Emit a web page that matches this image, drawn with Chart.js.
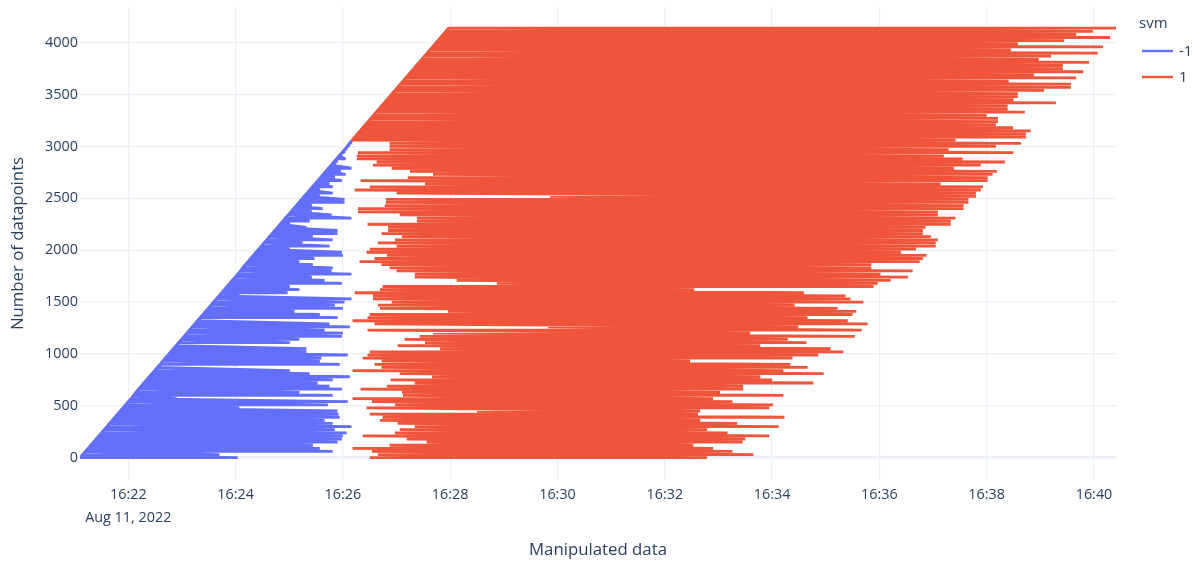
<!DOCTYPE html>
<html>
<head>
<meta charset="utf-8">
<title>Manipulated data</title>
<script src="https://cdn.jsdelivr.net/npm/chart.js@4.4.1/dist/chart.umd.min.js"></script>
<style>
  html, body { margin: 0; padding: 0; background: #ffffff; }
  #wrap { width: 1200px; height: 563px; }
</style>
</head>
<body>
<div id="wrap"><canvas id="chart" width="1200" height="563"></canvas></div>
<script>
// Datapoint number for each sampled row of the trace
const rowIndex = [
  0,30,60,90,120,150,180,210,240,270,
  300,330,360,390,420,450,480,510,540,570,
  600,630,660,690,720,750,780,810,840,870,
  900,930,960,990,1020,1050,1080,1110,1140,1170,
  1200,1230,1260,1290,1320,1350,1380,1410,1440,1470,
  1500,1530,1560,1590,1620,1650,1680,1710,1740,1770,
  1800,1830,1860,1890,1920,1950,1980,2010,2040,2070,
  2100,2130,2160,2190,2220,2250,2280,2310,2340,2370,
  2400,2430,2460,2490,2520,2550,2580,2610,2640,2670,
  2700,2730,2760,2790,2820,2850,2880,2910,2940,2970,
  3000,3030,3060,3090,3120,3150,3180,3210,3240,3270,
  3300,3330,3360,3390,3420,3450,3480,3510,3540,3570,
  3600,3630,3660,3690,3720,3750,3780,3810,3840,3870,
  3900,3930,3960,3990,4020,4050,4080,4110,4140
];

// Times are minutes after 16:00 (Aug 11, 2022)
// svm = -1 : where each row starts and ends
const blueStart = [
  21.10,21.15,21.20,21.25,21.30,21.35,21.40,21.45,21.50,21.55,
  21.60,21.65,21.70,21.75,21.80,21.85,21.90,21.95,22.00,22.05,
  22.10,22.14,22.19,22.24,22.29,22.34,22.39,22.44,22.49,22.54,
  22.59,22.64,22.69,22.74,22.79,22.84,22.89,22.94,22.99,23.04,
  23.09,23.14,23.19,23.24,23.29,23.34,23.39,23.44,23.49,23.54,
  23.59,23.64,23.69,23.74,23.79,23.84,23.89,23.94,23.99,24.04,
  24.09,24.13,24.18,24.23,24.28,24.33,24.38,24.43,24.48,24.53,
  24.58,24.63,24.68,24.73,24.78,24.83,24.88,24.93,24.98,25.03,
  25.08,25.13,25.18,25.23,25.28,25.33,25.38,25.43,25.48,25.53,
  25.58,25.63,25.68,25.73,25.78,25.83,25.88,25.93,25.98,26.03,
  26.08,26.12,26.17
];
const blueEnd = [
  24.04,23.70,25.81,25.57,25.44,25.90,25.98,26.00,26.07,25.85,
  26.16,25.81,25.66,25.94,25.92,25.90,24.07,25.72,26.09,22.90,
  25.81,25.19,25.98,25.75,25.53,25.81,26.13,25.38,25.01,22.58,
  25.94,25.57,25.60,26.09,25.32,25.32,22.90,25.01,25.19,25.98,
  26.00,25.66,26.13,25.75,23.33,25.90,25.57,25.10,26.00,25.85,
  26.03,26.16,24.07,24.97,25.19,25.01,25.98,25.66,25.42,26.16,
  25.79,25.81,25.44,25.19,25.47,26.00,25.98,25.01,25.75,25.25,
  25.81,25.44,25.90,25.90,25.32,25.01,25.38,26.16,25.79,25.42,
  25.62,25.42,26.03,26.03,25.57,25.81,25.57,25.81,25.75,25.98,
  25.85,26.05,25.96,26.16,25.85,25.88,26.05,25.96,26.02,26.05,
  26.10,26.14,26.17
];

// svm = 1 : where each row starts and ends
const redStart = [
  26.50,26.65,26.54,26.18,26.87,27.56,27.19,26.37,26.97,27.06,
  27.34,27.02,26.69,26.74,26.50,28.50,26.44,26.97,26.54,26.18,
  27.12,27.10,26.33,26.82,27.34,26.89,27.66,27.06,26.18,26.72,
  26.59,26.72,26.37,26.46,26.50,27.81,27.02,27.53,27.15,27.43,
  27.68,26.46,29.82,26.59,26.18,26.46,26.50,27.96,26.69,26.65,
  26.91,26.56,26.56,26.22,26.69,26.74,28.87,28.12,27.34,27.34,
  27.00,26.87,26.72,26.31,26.59,26.82,26.44,26.50,27.00,26.65,
  26.97,27.10,26.72,26.84,26.84,26.46,27.38,27.38,27.06,26.28,
  26.28,26.78,26.80,26.80,29.86,27.00,26.22,26.50,27.53,26.33,
  27.21,27.68,27.25,26.91,26.56,26.63,26.26,26.26,26.28,26.87,
  26.87,26.87,26.17,26.22,26.27,26.32,26.37,26.42,26.47,26.52,
  26.57,26.62,26.67,26.72,26.77,26.82,26.87,26.92,26.97,27.02,
  27.07,27.12,27.17,27.22,27.27,27.32,27.37,27.42,27.47,27.52,
  27.57,27.62,27.67,27.72,27.77,27.82,27.87,27.92,27.97
];
const redEnd = [
  32.79,33.65,33.26,32.90,32.53,33.45,33.50,33.95,33.17,32.79,
  34.12,33.35,32.66,34.23,32.62,32.66,33.95,34.02,33.26,32.90,
  34.21,33.03,33.46,33.46,34.77,34.00,33.78,34.96,34.21,34.66,
  34.34,32.47,34.38,34.86,35.33,35.09,33.78,34.64,34.29,35.54,
  33.59,35.67,34.49,35.78,35.41,34.66,35.50,35.57,35.22,34.42,
  35.70,35.46,35.37,34.59,32.55,35.89,35.97,36.21,36.53,36.02,
  36.62,35.85,35.85,36.75,36.81,36.88,36.40,36.68,37.05,37.05,
  37.09,36.96,36.81,36.81,36.86,37.33,37.33,37.42,37.09,37.09,
  37.57,37.57,37.66,37.66,37.80,37.80,37.89,37.93,37.14,38.02,
  38.02,38.11,38.19,37.39,37.89,38.34,37.55,37.20,38.50,37.29,
  38.17,38.64,37.42,38.73,38.73,38.82,38.49,38.17,38.21,38.21,
  38.00,38.71,38.39,38.39,39.29,38.50,38.58,38.58,39.07,39.57,
  39.57,38.41,39.67,38.88,39.80,39.42,39.42,39.91,38.97,39.20,
  40.07,38.45,40.17,38.58,39.44,40.30,39.67,39.98,40.41
];

// First datapoint of each series whose row starts at its arrival time
const blueArrivalFrom = 0;
const redArrivalFrom = 3060;

// Axis ticks
const timeTicks = [22, 24, 26, 28, 30, 32, 34, 36, 38, 40];
const timeLabels = ['16:22','16:24','16:26','16:28','16:30','16:32','16:34','16:36','16:38','16:40'];
const dateLabel = 'Aug 11, 2022';
const countTicks = [0, 500, 1000, 1500, 2000, 2500, 3000, 3500, 4000];

const seriesNames = ['-1', '1'];
const legendTitle = 'svm';

const FONT = "'Open Sans', verdana, arial, sans-serif";
const INK = '#2a3f5f';
const GRID = '#EBF0F8';

// Each row is traced from its start time to its end time, then on to the next row.
// The trace then runs back down along the arrival edge (row starts from `from` on).
function trace(rows, starts, ends, from) {
  const pts = [];
  for (let i = 0; i < starts.length; i++) {
    pts.push({ x: starts[i], y: rows[i] });
    pts.push({ x: ends[i], y: rows[i] });
  }
  for (let i = starts.length - 1; i >= 0 && rows[i] >= from; i--) {
    pts.push({ x: starts[i], y: rows[i] });
  }
  return pts;
}

const lineStyle = {
  borderWidth: 2.8,
  pointRadius: 0,
  pointHoverRadius: 0,
  tension: 0,
  fill: false,
  borderJoinStyle: 'bevel',
  borderCapStyle: 'butt'
};

const legendBox = {
  id: 'legendBox',
  afterDraw(chart) {
    const ctx = chart.ctx;
    ctx.save();
    ctx.font = '15px ' + FONT;
    ctx.fillStyle = INK;
    ctx.textBaseline = 'middle';
    ctx.textAlign = 'left';
    ctx.fillText(legendTitle, 1139, 24);
    chart.data.datasets.forEach((ds, i) => {
      const y = 51 + i * 26;
      ctx.strokeStyle = ds.borderColor;
      ctx.lineWidth = 2.4;
      ctx.beginPath();
      ctx.moveTo(1142, y);
      ctx.lineTo(1173, y);
      ctx.stroke();
      ctx.fillStyle = INK;
      ctx.fillText(ds.label, 1179, y + 1);
    });
    ctx.restore();
  }
};

new Chart(document.getElementById('chart'), {
  type: 'line',
  data: {
    datasets: [
      Object.assign({
        label: seriesNames[0],
        data: trace(rowIndex, blueStart, blueEnd, blueArrivalFrom),
        borderColor: '#636efa',
        backgroundColor: '#636efa',
        order: 2
      }, lineStyle),
      Object.assign({
        label: seriesNames[1],
        data: trace(rowIndex, redStart, redEnd, redArrivalFrom),
        borderColor: '#EF553B',
        backgroundColor: '#EF553B',
        order: 1
      }, lineStyle)
    ]
  },
  options: {
    responsive: false,
    animation: false,
    devicePixelRatio: 1,
    events: [],
    layout: { padding: { top: 7, right: 84, left: 0, bottom: 0 } },
    plugins: {
      legend: { display: false },
      tooltip: { enabled: false }
    },
    scales: {
      x: {
        type: 'linear',
        min: 21.10,
        max: 40.41,
        afterFit: (s) => { s.height = 83; s.paddingLeft = 0; s.paddingRight = 0; },
        afterBuildTicks: (s) => { s.ticks = timeTicks.map(v => ({ value: v })); },
        grid: { color: GRID, lineWidth: 1.2, drawTicks: false },
        border: { display: false },
        ticks: {
          autoSkip: false,
          maxRotation: 0,
          padding: 3,
          color: INK,
          font: { family: FONT, size: 14.4, lineHeight: 1.6 },
          callback: (v) => {
            const i = timeTicks.indexOf(v);
            const t = timeLabels[i];
            return i === 0 ? [t, dateLabel] : t;
          }
        },
        title: {
          display: true,
          text: 'Manipulated data',
          color: INK,
          font: { family: FONT, size: 16.8, lineHeight: 1.2 },
          padding: { top: 0, bottom: 3 }
        }
      },
      y: {
        type: 'linear',
        min: -215,
        max: 4344,
        afterFit: (s) => { s.width = 80; s.paddingTop = 0; s.paddingBottom = 0; },
        afterBuildTicks: (s) => { s.ticks = countTicks.map(v => ({ value: v })); },
        grid: {
          color: GRID,
          lineWidth: (c) => (c.tick && c.tick.value === 0 ? 2.4 : 1.2),
          drawTicks: false
        },
        border: { display: false },
        ticks: {
          padding: 2,
          color: INK,
          font: { family: FONT, size: 14.4 },
          callback: (v) => String(v)
        },
        title: {
          display: true,
          text: 'Number of datapoints',
          color: INK,
          font: { family: FONT, size: 16.8, lineHeight: 1.2 },
          padding: { top: 8, bottom: 0 }
        }
      }
    }
  },
  plugins: [legendBox]
});
</script>
</body>
</html>
